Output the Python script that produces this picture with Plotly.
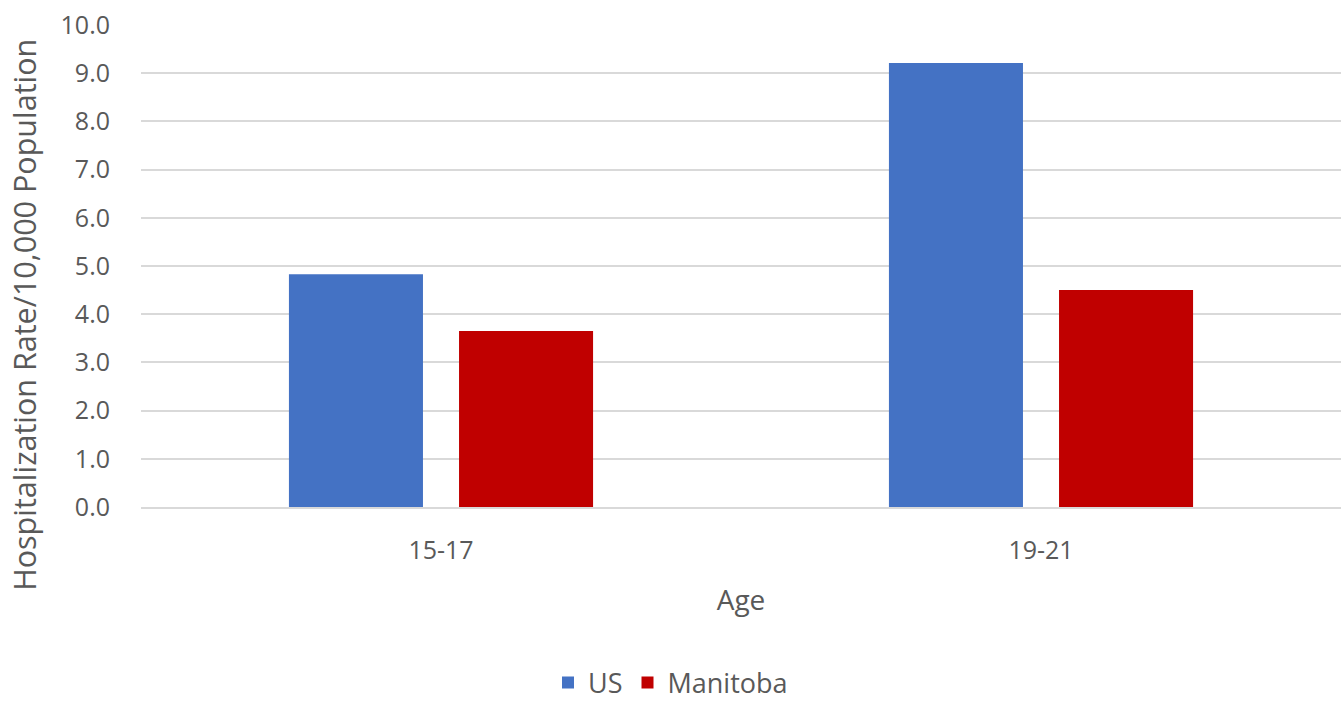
import plotly.graph_objects as go

# Hospitalization rate per 10,000 population by age group
age_groups = ["15-17", "19-21"]
us_rate = [4.83, 9.21]
manitoba_rate = [3.65, 4.50]
y_ticks = [0, 1, 2, 3, 4, 5, 6, 7, 8, 9, 10]

FONT = "Open Sans"
TEXT_GRAY = "#595959"
GRID_GRAY = "#d9d9d9"

fig = go.Figure()
fig.add_trace(go.Bar(name="US", x=age_groups, y=us_rate,
                     marker=dict(color="#4472c4", line=dict(width=0))))
fig.add_trace(go.Bar(name="Manitoba", x=age_groups, y=manitoba_rate,
                     marker=dict(color="#c00000", line=dict(width=0))))

fig.update_layout(
    width=1341, height=702,
    margin=dict(l=141, r=0, t=25, b=195),
    paper_bgcolor="white", plot_bgcolor="white",
    barmode="group", bargap=0.433, bargroupgap=0.212,
    font=dict(family=FONT, color=TEXT_GRAY, size=25),
    showlegend=True,
    legend=dict(orientation="h", xref="container", yref="container",
                x=0.5, xanchor="center", y=0.062, yanchor="top",
                font=dict(size=27, color=TEXT_GRAY),
                itemsizing="constant", itemwidth=30, traceorder="normal"),
)

fig.update_xaxes(
    showgrid=False, showline=True, linecolor=GRID_GRAY, linewidth=2,
    ticks="", ticklabelstandoff=20,
    tickfont=dict(size=25, color=TEXT_GRAY),
    title=dict(text="Age", font=dict(size=28, color=TEXT_GRAY), standoff=25),
)
fig.update_yaxes(
    range=[0, 10], tickvals=y_ticks,
    ticktext=[f"{v:.1f}" for v in y_ticks],
    showgrid=True, gridcolor=GRID_GRAY, gridwidth=2,
    zeroline=False, showline=False, ticks="", ticklabelstandoff=30,
    tickfont=dict(size=25, color=TEXT_GRAY),
)

fig.add_annotation(
    text="Hospitalization Rate/10,000 Population",
    xref="paper", yref="paper", x=-0.097, y=0.398,
    xanchor="center", yanchor="middle", textangle=-90, showarrow=False,
    font=dict(size=30.5, color=TEXT_GRAY, family=FONT),
)

fig.write_html("out.html")
